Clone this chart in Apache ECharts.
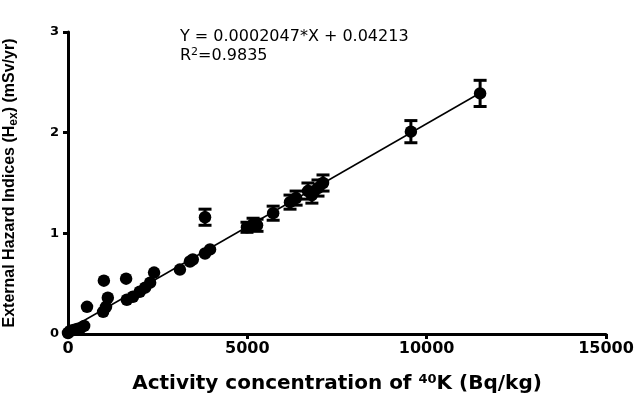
<!DOCTYPE html>
<html>
<head>
<meta charset="utf-8">
<script src="https://cdn.jsdelivr.net/npm/echarts@6/dist/echarts.min.js"></script>
<style>
  html, body { margin: 0; padding: 0; background: #fff; }
  #chart { width: 634px; height: 400px; }
</style>
</head>
<body>
<div id="chart"></div>
<script>
// 40K activity (Bq/kg)
const kActivity = [
  0, 60, 150, 250, 350, 450,
  530, 980, 1060, 1110, 1000, 1620,
  1640, 1810, 2000, 2150, 2290, 2400,
  3120, 3400, 3480, 3820, 3960, 3820,
  4990, 5160, 5270, 5720, 6190, 6360,
  6690, 6800, 6970, 7110, 9560, 11490
];
// External hazard index Hex (mSv/yr)
const hexValues = [
  0.01, 0.03, 0.04, 0.05, 0.06, 0.08,
  0.27, 0.22, 0.27, 0.36, 0.53, 0.55,
  0.34, 0.37, 0.42, 0.46, 0.51, 0.61,
  0.64, 0.72, 0.74, 0.80, 0.84, 1.16,
  1.06, 1.09, 1.08, 1.20, 1.31, 1.35,
  1.42, 1.38, 1.45, 1.50, 2.01, 2.39
];
// error bar half heights (0 = hidden behind the marker)
const hexError = [
  0, 0, 0, 0, 0, 0,
  0, 0, 0, 0, 0, 0,
  0, 0, 0, 0, 0, 0,
  0, 0, 0, 0, 0, 0.08,
  0.05, 0.06, 0.06, 0.07, 0.07, 0.07,
  0.08, 0.08, 0.08, 0.08, 0.11, 0.13
];
// fitted line end points
const fitLine = [[0, 0.042], [11490, 2.394]];

const xTicks = [0, 15000, 5000];
const yTicks = [0, 3, 1];

const points = kActivity.map((k, i) => [k, hexValues[i]]);
const bars = kActivity.map((k, i) => [k, hexValues[i], hexError[i]]).filter(d => d[2] > 0);

const wide = 'DejaVu Sans';
const narrow = 'Liberation Sans';

const option = {
  animation: false,
  grid: { left: 68, right: 28, top: 32, bottom: 66, outerBoundsMode: 'none' },
  xAxis: {
    type: 'value',
    min: xTicks[0], max: xTicks[1], interval: xTicks[2],
    axisLine: { lineStyle: { color: '#000', width: 3 } },
    axisTick: { length: 5, lineStyle: { color: '#000', width: 3 } },
    splitLine: { show: false },
    axisLabel: {
      margin: 7, fontFamily: wide, fontWeight: 'bold', fontSize: 16, color: '#000',
      formatter: v => String(v)
    },
    name: '{a|Activity concentration of }{s|40}{a|K (Bq/kg)}',
    nameLocation: 'middle',
    nameGap: 39,
    nameTextStyle: {
      rich: {
        a: { fontFamily: wide, fontWeight: 'bold', fontSize: 20, color: '#000' },
        s: { fontFamily: wide, fontWeight: 'bold', fontSize: 13, color: '#000', verticalAlign: 'top', padding: [0, 0, 9, 0] }
      }
    }
  },
  yAxis: {
    type: 'value',
    min: yTicks[0], max: yTicks[1], interval: yTicks[2],
    axisLine: { lineStyle: { color: '#000', width: 3 } },
    axisTick: { length: 5, lineStyle: { color: '#000', width: 3 } },
    splitLine: { show: false },
    axisLabel: { margin: 9, fontFamily: wide, fontWeight: 'bold', fontSize: 13, color: '#000' },
    name: '{a|External Hazard Indices (H}{s|ex}{a|) (mSv/yr)}',
    nameLocation: 'middle',
    nameGap: 48,
    nameTextStyle: {
      rich: {
        a: { fontFamily: narrow, fontWeight: 'bold', fontSize: 16, color: '#000' },
        s: { fontFamily: narrow, fontWeight: 'bold', fontSize: 12, color: '#000', padding: [8, 0, 0, 0] }
      }
    }
  },
  graphic: [
    {
      type: 'text', left: 180, top: 29,
      style: {
        text: 'Y = 0.0002047*X + 0.04213',
        fontFamily: wide, fontSize: 16, fill: '#000'
      }
    },
    {
      type: 'text', left: 180, top: 47,
      style: {
        text: '{a|R}{s|2}{a|=0.9835}',
        rich: {
          a: { fontFamily: wide, fontSize: 16, fill: '#000' },
          s: { fontFamily: wide, fontSize: 11, fill: '#000', padding: [0, 0, 7, 0] }
        }
      }
    }
  ],
  series: [
    {
      type: 'line',
      data: fitLine,
      symbol: 'none',
      lineStyle: { color: '#000', width: 1.5 },
      z: 2
    },
    {
      type: 'custom',
      data: bars,
      renderItem: function (params, api) {
        const x = api.value(0), y = api.value(1), e = api.value(2);
        const top = api.coord([x, y + e]);
        const bot = api.coord([x, y - e]);
        const cap = 6.5;
        const st = { stroke: '#000', lineWidth: 3 };
        return {
          type: 'group',
          children: [
            { type: 'line', shape: { x1: top[0], y1: top[1], x2: bot[0], y2: bot[1] }, style: st },
            { type: 'line', shape: { x1: top[0] - cap, y1: top[1], x2: top[0] + cap, y2: top[1] }, style: st },
            { type: 'line', shape: { x1: bot[0] - cap, y1: bot[1], x2: bot[0] + cap, y2: bot[1] }, style: st }
          ]
        };
      },
      z: 3
    },
    {
      type: 'scatter',
      data: points,
      symbol: 'circle',
      symbolSize: 12.5,
      itemStyle: { color: '#000', opacity: 1 },
      z: 4
    }
  ]
};

const chart = echarts.init(document.getElementById('chart'));
chart.setOption(option);
</script>
</body>
</html>
